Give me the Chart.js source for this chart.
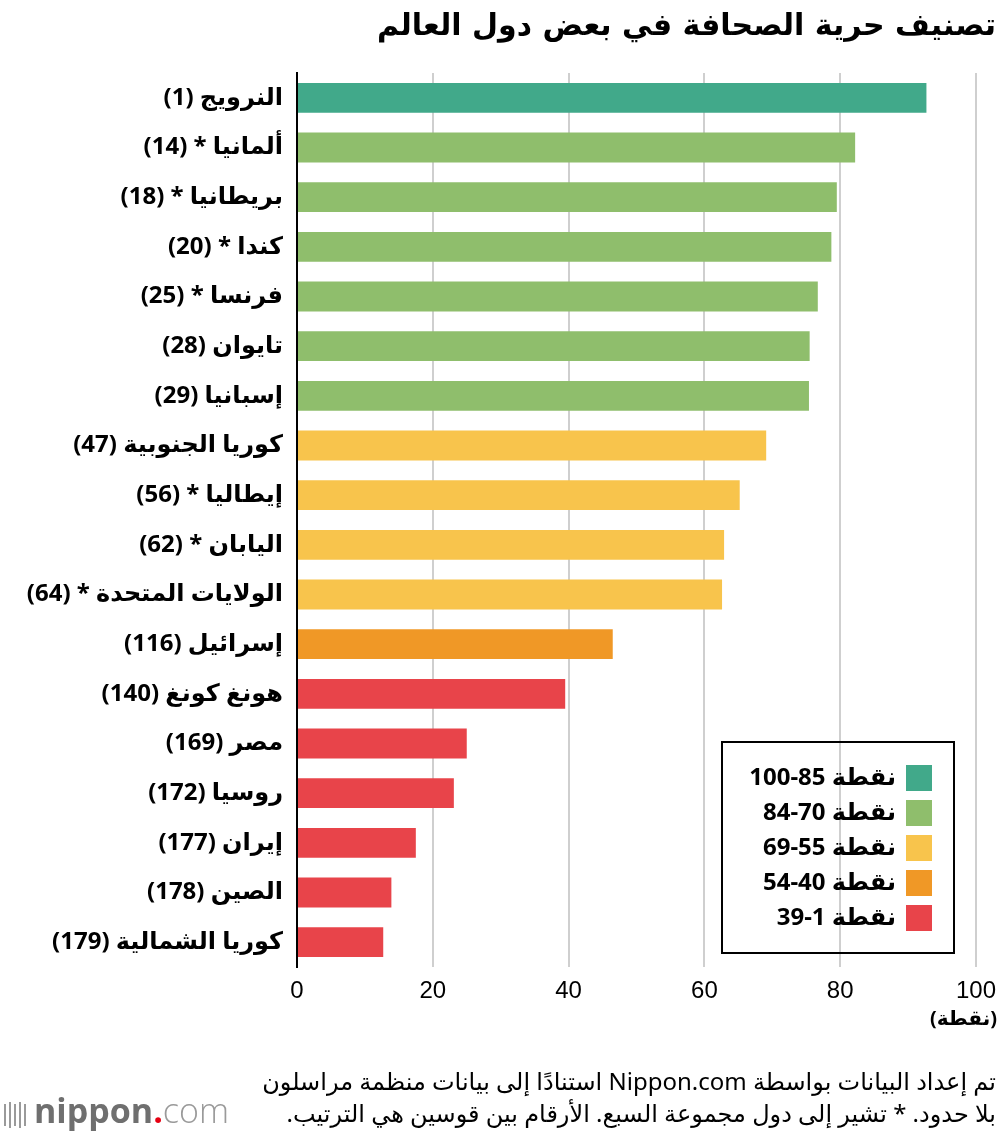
<!DOCTYPE html>
<html lang="ar">
<head>
<meta charset="utf-8">
<title>تصنيف حرية الصحافة في بعض دول العالم</title>
<script src="https://cdn.jsdelivr.net/npm/chart.js@4.4.1/dist/chart.umd.min.js"></script>
<style>
    html, body { margin: 0; padding: 0; background: #fff; }
    #chart { display: block; }
</style>
</head>
<body>
<canvas id="chart" dir="rtl" width="1000" height="1140"></canvas>
<script>
// Countries (rank in brackets, * = G7)
const countries = [
    'النرويج (1)', 'ألمانيا * (14)', 'بريطانيا * (18)', 'كندا * (20)', 'فرنسا * (25)',
    'تايوان (28)', 'إسبانيا (29)', 'كوريا الجنوبية (47)', 'إيطاليا * (56)', 'اليابان * (62)',
    'الولايات المتحدة * (64)', 'إسرائيل (116)', 'هونغ كونغ (140)', 'مصر (169)', 'روسيا (172)',
    'إيران (177)', 'الصين (178)', 'كوريا الشمالية (179)'
];

// Score (points)
const scores = [
    92.7, 82.2, 79.5, 78.7, 76.7,
    75.5, 75.4, 69.1, 65.2, 62.9,
    62.6, 46.5, 39.5, 25.0, 23.1,
    17.5, 13.9, 12.7
];

// Score bands (lower bound) with their legend labels and colours
const bandMins = [85, 70, 55, 40, 0];
const bandLabels = ['نقطة 85-100', 'نقطة 70-84', 'نقطة 55-69', 'نقطة 40-54', 'نقطة 1-39'];
const bandColors = ['#41a98a', '#8fbe6c', '#f8c44c', '#f09826', '#e8444a'];

const xTicks = [0, 20, 40, 60, 80, 100];

const ARABIC_FONT = '"Noto Sans", "DejaVu Sans", sans-serif';

function bandColor(v) {
    for (let i = 0; i < bandMins.length; i++) {
        if (v >= bandMins[i]) return bandColors[i];
    }
    return bandColors[bandColors.length - 1];
}

/**
 * Title, unit, boxed legend, source note and logo
 */
const decorations = {
    id: 'decorations',
    afterDraw(chart) {
        const ctx = chart.ctx;

        ctx.save();
        ctx.direction = 'rtl';
        ctx.fillStyle = '#000';

        // Title
        ctx.font = 'bold 30px "DejaVu Sans", sans-serif';
        ctx.textAlign = 'right';
        ctx.textBaseline = 'middle';
        ctx.fillText('تصنيف حرية الصحافة في بعض دول العالم', 996, 27);

        // Unit under the last tick
        ctx.font = 'bold 20px ' + ARABIC_FONT;
        ctx.fillText('(نقطة)', 997, 1019);

        // Legend box
        const boxRight = 954, boxTop = 742, boxW = 232, boxH = 211;
        ctx.lineWidth = 2;
        ctx.strokeStyle = '#000';
        ctx.strokeRect(boxRight - boxW, boxTop, boxW, boxH);
        ctx.font = 'bold 24px ' + ARABIC_FONT;
        bandLabels.forEach((label, i) => {
            const cy = 778 + i * 35;
            ctx.fillStyle = bandColors[i];
            ctx.fillRect(906, cy - 13, 26, 26);
            ctx.fillStyle = '#000';
            ctx.fillText(label, 896, cy);
        });

        // Source note
        ctx.font = '24px ' + ARABIC_FONT;
        ctx.fillText('تم إعداد البيانات بواسطة Nippon.com استنادًا إلى بيانات منظمة مراسلون', 996, 1083);
        ctx.fillText('بلا حدود. * تشير إلى دول مجموعة السبع. الأرقام بين قوسين هي الترتيب.', 996, 1115);

        // nippon.com logo
        ctx.direction = 'ltr';
        ctx.textAlign = 'left';
        ctx.fillStyle = '#9a9a9a';
        for (let i = 0; i < 5; i++) {
            ctx.fillRect(4 + i * 5, 1104 - (i % 2) * 2, 2, 22 + (i % 2) * 4);
        }
        let x = 34;
        ctx.font = 'bold 34px "Open Sans", sans-serif';
        ctx.fillStyle = '#6f6f6f';
        ctx.fillText('nippon', x, 1113);
        x += ctx.measureText('nippon').width;
        ctx.fillStyle = '#e60012';
        ctx.fillText('.', x, 1113);
        x += ctx.measureText('.').width;
        ctx.font = '300 34px "Open Sans", sans-serif';
        ctx.fillStyle = '#9a9a9a';
        ctx.fillText('com', x, 1113);

        ctx.restore();
    }
};

new Chart(document.getElementById('chart'), {
    type: 'bar',
    data: {
        labels: countries,
        datasets: [{
            data: scores,
            backgroundColor: scores.map(bandColor),
            borderWidth: 0,
            barPercentage: 0.6,
            categoryPercentage: 1
        }]
    },
    options: {
        indexAxis: 'y',
        responsive: false,
        animation: false,
        layout: {
            padding: { top: 73, right: 24, left: 0, bottom: 0 }
        },
        plugins: {
            legend: { display: false },
            title: { display: false },
            tooltip: { enabled: false }
        },
        scales: {
            x: {
                min: 0,
                max: 100,
                afterBuildTicks: scale => {
                    scale.ticks = xTicks.map(v => ({ value: v }));
                },
                afterFit: scale => {
                    scale.height = 173;
                    scale.paddingLeft = 0;
                    scale.paddingRight = 0;
                },
                grid: {
                    color: ctx => ctx.tick && ctx.tick.value === 0 ? 'rgba(0,0,0,0)' : '#cfcfcf',
                    lineWidth: 2,
                    drawTicks: false
                },
                border: { display: false },
                ticks: {
                    color: '#000',
                    padding: 10,
                    font: { family: '"Liberation Sans", Arial, sans-serif', size: 24 }
                }
            },
            y: {
                afterFit: scale => {
                    scale.width = 297;
                },
                grid: { display: false, drawTicks: false },
                border: { color: '#000', width: 2 },
                ticks: {
                    color: '#000',
                    padding: 14,
                    font: { family: ARABIC_FONT, size: 24, weight: 'bold' }
                }
            }
        }
    },
    plugins: [decorations]
});
</script>
</body>
</html>
